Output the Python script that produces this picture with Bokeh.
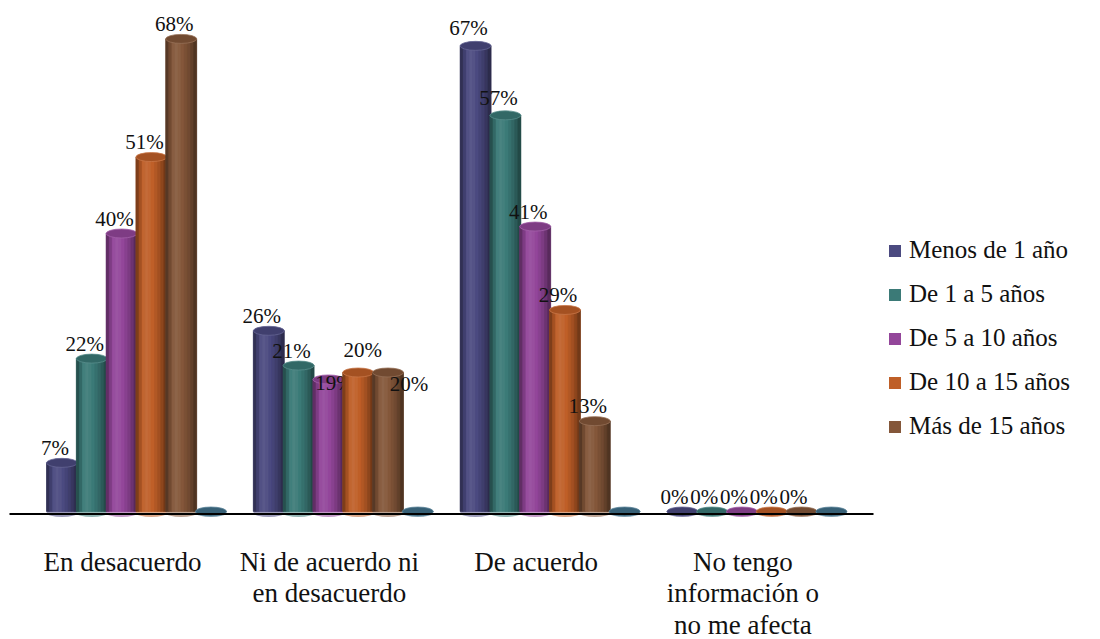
import numpy as np
from bokeh.plotting import figure
from bokeh.models import Range1d, Legend, LegendItem
from bokeh.core.properties import value
from bokeh.embed import file_html
from bokeh.resources import INLINE

# ---------------------------------------------------------------- data
categorias = [
    "En desacuerdo",
    "Ni de acuerdo ni\nen desacuerdo",
    "De acuerdo",
    "No tengo\ninformación o\nno me afecta",
]
series = ["Menos de 1 año", "De 1 a 5 años", "De 5 a 10 años",
          "De 10 a 15 años", "Más de 15 años"]

menos_1 = [7, 26, 67, 0]
de_1_a_5 = [22, 21, 57, 0]
de_5_a_10 = [40, 19, 41, 0]
de_10_a_15 = [51, 20, 29, 0]
mas_15 = [68, 20, 13, 0]
serie_vacia = [0, 0, 0, 0]          # sixth series, drawn only as floor discs

valores = [menos_1, de_1_a_5, de_5_a_10, de_10_a_15, mas_15]

# ---------------------------------------------------------------- style
colores = ["#4b4a80", "#3b7a77", "#93469a", "#bf5f28", "#84573a"]
color_vacia = "#41708a"
FUENTE = "Liberation Serif"

W, H = 1100, 639
PX_CAT = 206.8        # pixels per category
PX_PCT = 6.95         # pixels per percentage point
ORIGEN_X = 122        # pixel of the first category centre
ORIGEN_Y = 511        # pixel of the 0 % level

dx = 1.0 / PX_CAT     # one pixel in x data units
dy = 1.0 / PX_PCT     # one pixel in y data units

BAR_W = 31 * dx
PASO = 29.8 * dx
PRIMER = -60.5 * dx   # centre of the first bar relative to the category centre

# per-label offsets in pixels (right, up) where the default would collide
desplaz_def = (-7, 15)
desplaz = {
    (0, 2): (-7, 18), (1, 2): (-7, 17),
    (2, 1): (6, -4), (3, 1): (4.5, 23), (4, 1): (21, -11),
}
for j in range(5):
    desplaz[(j, 3)] = (-8, 15)


def tono(hexcol, f):
    c = np.array([int(hexcol[i:i + 2], 16) for i in (1, 3, 5)], dtype=float)
    if f < 1:
        c = c * f
    else:
        c = c + (255 - c) * (f - 1)
    c = np.clip(c, 0, 255).astype(int)
    return "#%02x%02x%02x" % tuple(c)


p = figure(width=W, height=H, output_backend="svg", toolbar_location=None,
           x_range=Range1d(-ORIGEN_X * dx, (W - ORIGEN_X) * dx),
           y_range=Range1d(-(H - ORIGEN_Y) * dy, ORIGEN_Y * dy),
           min_border=0)
p.axis.visible = False
p.grid.visible = False
p.outline_line_color = None
p.background_fill_color = "white"
p.border_fill_color = "white"

cats = np.arange(len(categorias))

# cylinder shading: dark edges, light band left of centre
perfil = [0.66, 0.86, 1.04, 1.08, 1.05, 1.0, 0.93, 0.85, 0.74, 0.6]
n_str = len(perfil)
ancho_str = BAR_W / n_str

leyenda_items = []
todas = valores + [serie_vacia]
todos_col = colores + [color_vacia]

for j, (vals, col) in enumerate(zip(todas, todos_col)):
    xs = cats + PRIMER + j * PASO
    vals = np.array(vals, dtype=float)
    # pale floor ellipse
    p.ellipse(x=xs, y=np.full(len(xs), 0.0) - 1.5 * dy, width=BAR_W, height=8,
              height_units="screen", fill_color=tono(col, 1.45),
              line_color=None)
    # solid body underneath the shading strips
    base = p.vbar(x=xs, bottom=0, top=vals, width=BAR_W,
                  fill_color=col, line_color=None)
    for k, f in enumerate(perfil):
        xk = xs - BAR_W / 2 + (k + 0.5) * ancho_str
        c = tono(col, f)
        p.vbar(x=xk, bottom=0, top=vals, width=ancho_str,
               fill_color=c, line_color=c, line_width=0.6)
    # top cap
    p.ellipse(x=xs, y=vals, width=BAR_W, height=9, height_units="screen",
              fill_color=tono(col, 0.86), line_color=tono(col, 1.15),
              line_width=0.8)
    if j < len(series):
        leyenda_items.append(LegendItem(label=series[j], renderers=[base]))
        # value labels
        lx, ly, lt = [], [], []
        for i, v in enumerate(vals):
            ox, oy = desplaz.get((j, i), desplaz_def)
            lx.append(xs[i] + ox * dx)
            ly.append(v + oy * dy)
            lt.append(f"{int(v)}%")
        p.text(x=lx, y=ly, text=lt, text_font=value(FUENTE),
               text_font_size="21px", text_align="center",
               text_baseline="middle", text_color="#111111")

# category axis line
p.segment(x0=[-113 * dx], x1=[751 * dx], y0=[-2.5 * dy], y1=[-2.5 * dy],
          line_color="black", line_width=2)

# category labels
p.text(x=cats, y=np.full(len(cats), -35 * dy), text=categorias,
       text_font=value(FUENTE), text_font_size="27px", text_align="center",
       text_baseline="top", text_color="#111111", text_line_height=1.06)

legend = Legend(items=leyenda_items, location=(887, 199),
                glyph_width=15, glyph_height=15, label_standoff=7,
                label_text_font=FUENTE, label_text_font_size="25px",
                label_text_color="#111111", spacing=16, padding=0, margin=0,
                border_line_color=None, background_fill_alpha=0)
p.add_layout(legend)

open("out.html", "w").write(file_html(p, INLINE))
